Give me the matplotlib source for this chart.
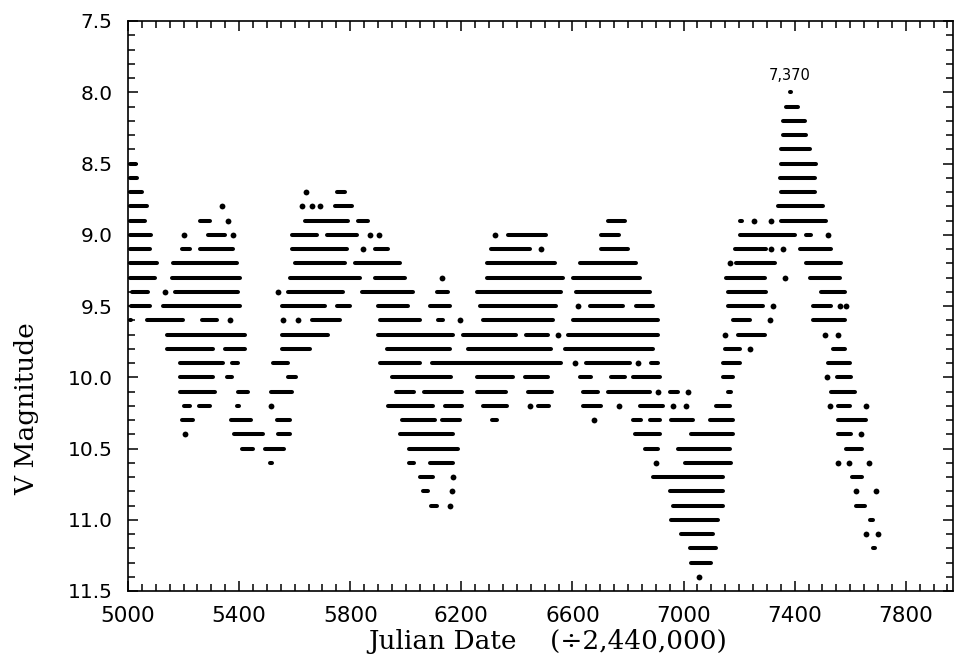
import matplotlib
matplotlib.use("Agg")
import matplotlib.pyplot as plt
import numpy as np
from matplotlib.ticker import FixedLocator, MultipleLocator, FormatStrFormatter

# visual estimates: each row is one 0.1 mag level, entries are runs of
# observations (first JD, last JD) - 2,440,000 ; single points have first == last
row_80 = [(7376, 7394)]
row_81 = [(7364, 7418)]
row_82 = [(7352, 7442)]
row_83 = [(7352, 7448)]
row_84 = [(7346, 7460)]
row_85 = [(5000, 5036), (7346, 7484)]
row_86 = [(5000, 5037), (7340, 7478)]
row_87 = [(5000, 5055), (5641, 5641), (5745, 5787), (7346, 7478)]
row_88 = [(5000, 5073), (5337, 5337), (5625, 5625), (5661, 5661), (5691, 5691),
          (5739, 5811), (7334, 7508)]
row_89 = [(5000, 5067), (5253, 5301), (5361, 5361), (5631, 5799), (5823, 5871),
          (6722, 6794), (7196, 7218), (7254, 7254), (7316, 7316), (7346, 7520)]
row_90 = [(5000, 5088), (5203, 5203), (5283, 5355), (5379, 5379), (5583, 5685),
          (5709, 5829), (5871, 5871), (5903, 5903), (6321, 6321), (6362, 6512),
          (6698, 6772), (7196, 7406), (7436, 7466), (7520, 7520)]
row_91 = [(5000, 5085), (5187, 5229), (5253, 5385), (5583, 5793), (5847, 5847),
          (5883, 5943), (6300, 6452), (6488, 6488), (6698, 6806), (7178, 7304),
          (7316, 7316), (7358, 7358), (7412, 7538)]
row_92 = [(5000, 5109), (5157, 5397), (5595, 5787), (5811, 5985), (6285, 6542),
          (6620, 6836), (7166, 7166), (7184, 7334), (7436, 7574)]
row_93 = [(5000, 5103), (5151, 5409), (5577, 5841), (5883, 6003), (6129, 6129),
          (6285, 6572), (6596, 6848), (7148, 7298), (7364, 7364), (7448, 7568)]
row_94 = [(5007, 5079), (5133, 5133), (5163, 5403), (5541, 5541), (5571, 5781),
          (5835, 6033), (6105, 6159), (6249, 6566), (6608, 6884), (7154, 7304),
          (7490, 7586)]
row_95 = [(5005, 5085), (5121, 5409), (5547, 5715), (5745, 5805), (5895, 6015),
          (6081, 6165), (6261, 6548), (6620, 6620), (6656, 6788), (6824, 6896),
          (7154, 7292), (7322, 7322), (7460, 7538), (7562, 7562), (7586, 7586)]
row_96 = [(5000, 5016), (5061, 5205), (5259, 5325), (5367, 5367), (5559, 5559),
          (5613, 5613), (5655, 5769), (5901, 6057), (6111, 6141), (6195, 6195),
          (6273, 6536), (6596, 6914), (7172, 7244), (7310, 7310), (7460, 7586)]
row_97 = [(5133, 5427), (5547, 5727), (5895, 6177), (6201, 6404), (6428, 6518),
          (6548, 6548), (6578, 6914), (7148, 7148), (7190, 7298), (7508, 7508),
          (7556, 7556)]
row_98 = [(5133, 5313), (5343, 5427), (5547, 5661), (5925, 6165), (6219, 6530),
          (6566, 6896), (7142, 7208), (7238, 7238), (7532, 7586)]
row_99 = [(5180, 5347), (5370, 5403), (5515, 5583), (5901, 6057), (6090, 6566),
          (6608, 6608), (6644, 6812), (6836, 6836), (6878, 6914), (7136, 7208),
          (7514, 7604)]
row_100 = [(5181, 5313), (5349, 5379), (5571, 5610), (5945, 6168), (6249, 6392),
           (6422, 6518), (6620, 6674), (6734, 6794), (6812, 6922), (7136, 7184),
           (7517, 7517), (7546, 7610)]
row_101 = [(5181, 5320), (5390, 5437), (5510, 5595), (5958, 6036), (6060, 6207),
           (6249, 6365), (6434, 6533), (6632, 6698), (6722, 6884), (6908, 6908),
           (6944, 6985), (7016, 7016), (7154, 7175), (7526, 7622)]
row_102 = [(5195, 5228), (5250, 5300), (5385, 5405), (5515, 5515), (5931, 6105),
           (6135, 6207), (6273, 6369), (6446, 6446), (6471, 6522), (6632, 6708),
           (6767, 6767), (6836, 6932), (6962, 6962), (7010, 7010), (7112, 7172),
           (7526, 7526), (7550, 7604), (7658, 7658)]
row_103 = [(5190, 5241), (5365, 5450), (5530, 5589), (5979, 6111), (6123, 6201),
           (6303, 6336), (6678, 6678), (6812, 6854), (6872, 6920), (6950, 7040),
           (7088, 7184), (7550, 7664)]
row_104 = [(5205, 5205), (5376, 5493), (5533, 5590), (5973, 6177), (6818, 6920),
           (7022, 7184), (7550, 7610), (7640, 7640)]
row_105 = [(5403, 5457), (5488, 5568), (6006, 6195), (6854, 6914), (6974, 7172),
           (7580, 7650)]
row_106 = [(5505, 5525), (6006, 6036), (6081, 6177), (6902, 6902), (6998, 7178),
           (7556, 7556), (7595, 7595), (7667, 7667)]
row_107 = [(6045, 6105), (6171, 6171), (6884, 7148), (7600, 7650)]
row_108 = [(6057, 6087), (6165, 6165), (6944, 7148), (7622, 7622), (7694, 7694)]
row_109 = [(6084, 6117), (6159, 6159), (6956, 7148), (7616, 7658)]
row_110 = [(6950, 7130), (7664, 7688)]
row_111 = [(6986, 7112), (7658, 7658), (7700, 7700)]
row_112 = [(7016, 7124), (7676, 7694)]
row_113 = [(7022, 7106)]
row_114 = [(7055, 7055)]

magnitudes = [8.0, 8.1, 8.2, 8.3, 8.4, 8.5, 8.6, 8.7, 8.8, 8.9,
              9.0, 9.1, 9.2, 9.3, 9.4, 9.5, 9.6, 9.7, 9.8, 9.9,
              10.0, 10.1, 10.2, 10.3, 10.4, 10.5, 10.6, 10.7, 10.8, 10.9,
              11.0, 11.1, 11.2, 11.3, 11.4]
rows = [row_80, row_81, row_82, row_83, row_84, row_85, row_86, row_87, row_88, row_89,
        row_90, row_91, row_92, row_93, row_94, row_95, row_96, row_97, row_98, row_99,
        row_100, row_101, row_102, row_103, row_104, row_105, row_106, row_107, row_108,
        row_109, row_110, row_111, row_112, row_113, row_114]

peak_jd = 7382
peak_label = "7,370"

fig = plt.figure(figsize=(9.56, 6.62), dpi=100)
ax = fig.add_axes([128 / 956, 1 - 591 / 662, 825 / 956, 570 / 662])

for mag, runs in zip(magnitudes, rows):
    for start, end in runs:
        if end - start < 12:
            ax.plot([(start + end) / 2], [mag], 'o', ms=4.2, color='k', mec='none')
        else:
            # pull the ends in a bit so the round caps sit on the outer dots
            ax.plot([start + 6, end - 6], [mag, mag], '-', lw=2.9, color='k',
                    solid_capstyle='round')

ax.text(peak_jd, 7.88, peak_label, ha='center', va='center', fontsize=10.5)

ax.set_xlim(5000, 7970)
ax.set_ylim(11.5, 7.5)

ax.xaxis.set_major_locator(FixedLocator(np.arange(5000, 7900, 400)))
ax.xaxis.set_minor_locator(MultipleLocator(50))
ax.yaxis.set_major_locator(MultipleLocator(0.5))
ax.yaxis.set_minor_locator(MultipleLocator(0.1))
ax.yaxis.set_major_formatter(FormatStrFormatter('%.1f'))

ax.tick_params(which='both', direction='in', top=True, right=True, width=1.1)
ax.tick_params(which='major', length=7)
ax.tick_params(axis='x', which='major', pad=11, labelsize=15.5)
ax.tick_params(axis='y', which='major', pad=11, labelsize=14.5)
ax.tick_params(which='minor', length=5)
for sp in ax.spines.values():
    sp.set_linewidth(1.2)

ax.set_xlabel("Julian Date    (÷2,440,000)", family='DejaVu Serif', fontsize=19)
ax.set_ylabel("V Magnitude", family='DejaVu Serif', fontsize=19)
ax.xaxis.set_label_coords(0.509, -0.066)
ax.yaxis.set_label_coords(-0.108, 0.32)

fig.savefig("out.png", dpi=100)
